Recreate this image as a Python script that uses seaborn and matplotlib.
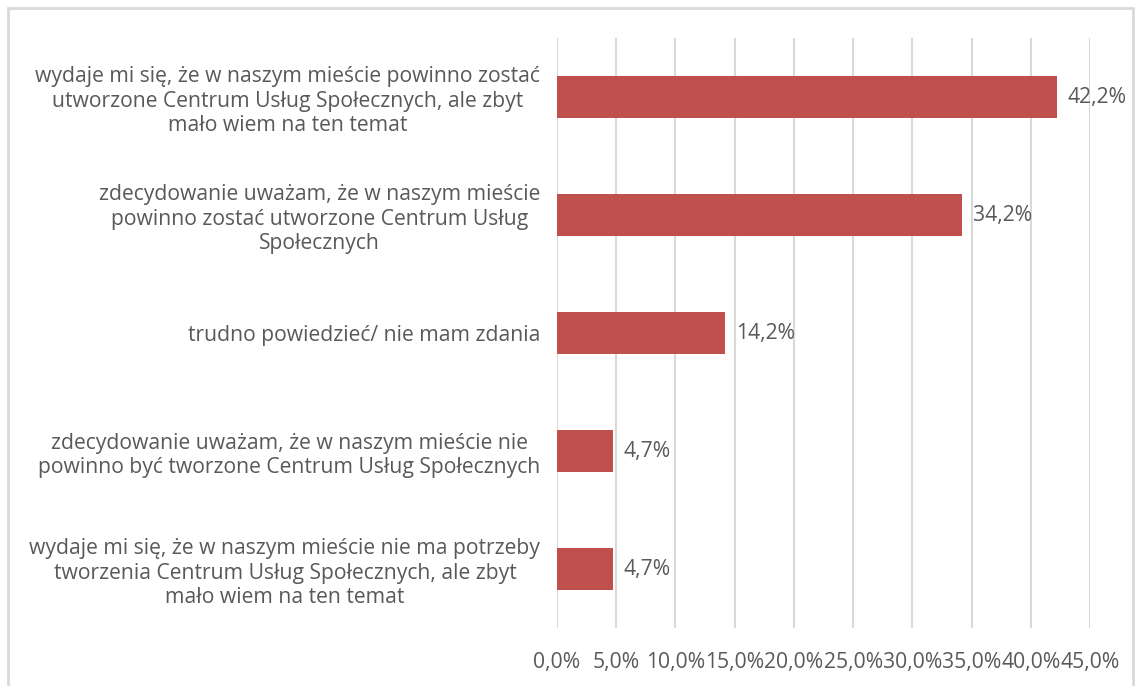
import matplotlib
matplotlib.use("Agg")
import matplotlib.pyplot as plt
import seaborn as sns
import pandas as pd
from matplotlib.patches import Rectangle

categories = [
    "wydaje mi się, że w naszym mieście powinno zostać\nutworzone Centrum Usług Społecznych, ale zbyt\nmało wiem na ten temat",
    "zdecydowanie uważam, że w naszym mieście\npowinno zostać utworzone Centrum Usług\nSpołecznych",
    "trudno powiedzieć/ nie mam zdania",
    "zdecydowanie uważam, że w naszym mieście nie\npowinno być tworzone Centrum Usług Społecznych",
    "wydaje mi się, że w naszym mieście nie ma potrzeby\ntworzenia Centrum Usług Społecznych, ale zbyt\nmało wiem na ten temat",
]
values = [42.2, 34.2, 14.2, 4.7, 4.7]
value_labels = ["42,2%", "34,2%", "14,2%", "4,7%", "4,7%"]
x_ticks = [0, 5, 10, 15, 20, 25, 30, 35, 40, 45]
x_tick_labels = ["0,0%", "5,0%", "10,0%", "15,0%", "20,0%", "25,0%", "30,0%", "35,0%", "40,0%", "45,0%"]

sns.set_style("white")
plt.rcParams["font.family"] = ["Open Sans", "DejaVu Sans"]

text_color = "#595959"
bar_color = "#C0504D"
grid_color = "#D9D9D9"
fs = 15.2

df = pd.DataFrame({"category": categories, "value": values})

fig = plt.figure(figsize=(11.36, 6.86), dpi=100)
ax = fig.add_axes([557 / 1136, 1 - 628 / 686, (1090 - 557) / 1136, (628 - 38) / 686])

sns.barplot(data=df, x="value", y="category", color=bar_color, width=0.35,
            saturation=1, ax=ax, zorder=3, edgecolor="none")

ax.set_xlim(0, 45)
ax.set_xticks(x_ticks)
ax.set_xticklabels(x_tick_labels, fontsize=fs, color=text_color)
ax.tick_params(axis="x", length=0, pad=17)
ax.tick_params(axis="y", length=0, pad=12, labelsize=fs, labelcolor=text_color)
for lbl in ax.get_yticklabels():
    lbl.set_horizontalalignment("right")
    lbl.set_multialignment("center")
    lbl.set_linespacing(1.2)

ax.xaxis.grid(True, color=grid_color, linewidth=1.5, zorder=0)
ax.yaxis.grid(False)
ax.set_axisbelow(True)
for s in ax.spines.values():
    s.set_visible(False)
ax.set_xlabel("")
ax.set_ylabel("")

for i, (v, t) in enumerate(zip(values, value_labels)):
    ax.annotate(t, xy=(v, i), xytext=(8, 0), textcoords="offset points",
                va="center", ha="left", fontsize=fs, color=text_color)

fig.patches.append(Rectangle((8 / 1136, -0.01), (1133 - 8) / 1136, (686 - 8) / 686 + 0.01,
                             transform=fig.transFigure, fill=False,
                             edgecolor="#D9D9D9", linewidth=2))

fig.savefig("out.png", dpi=100)
